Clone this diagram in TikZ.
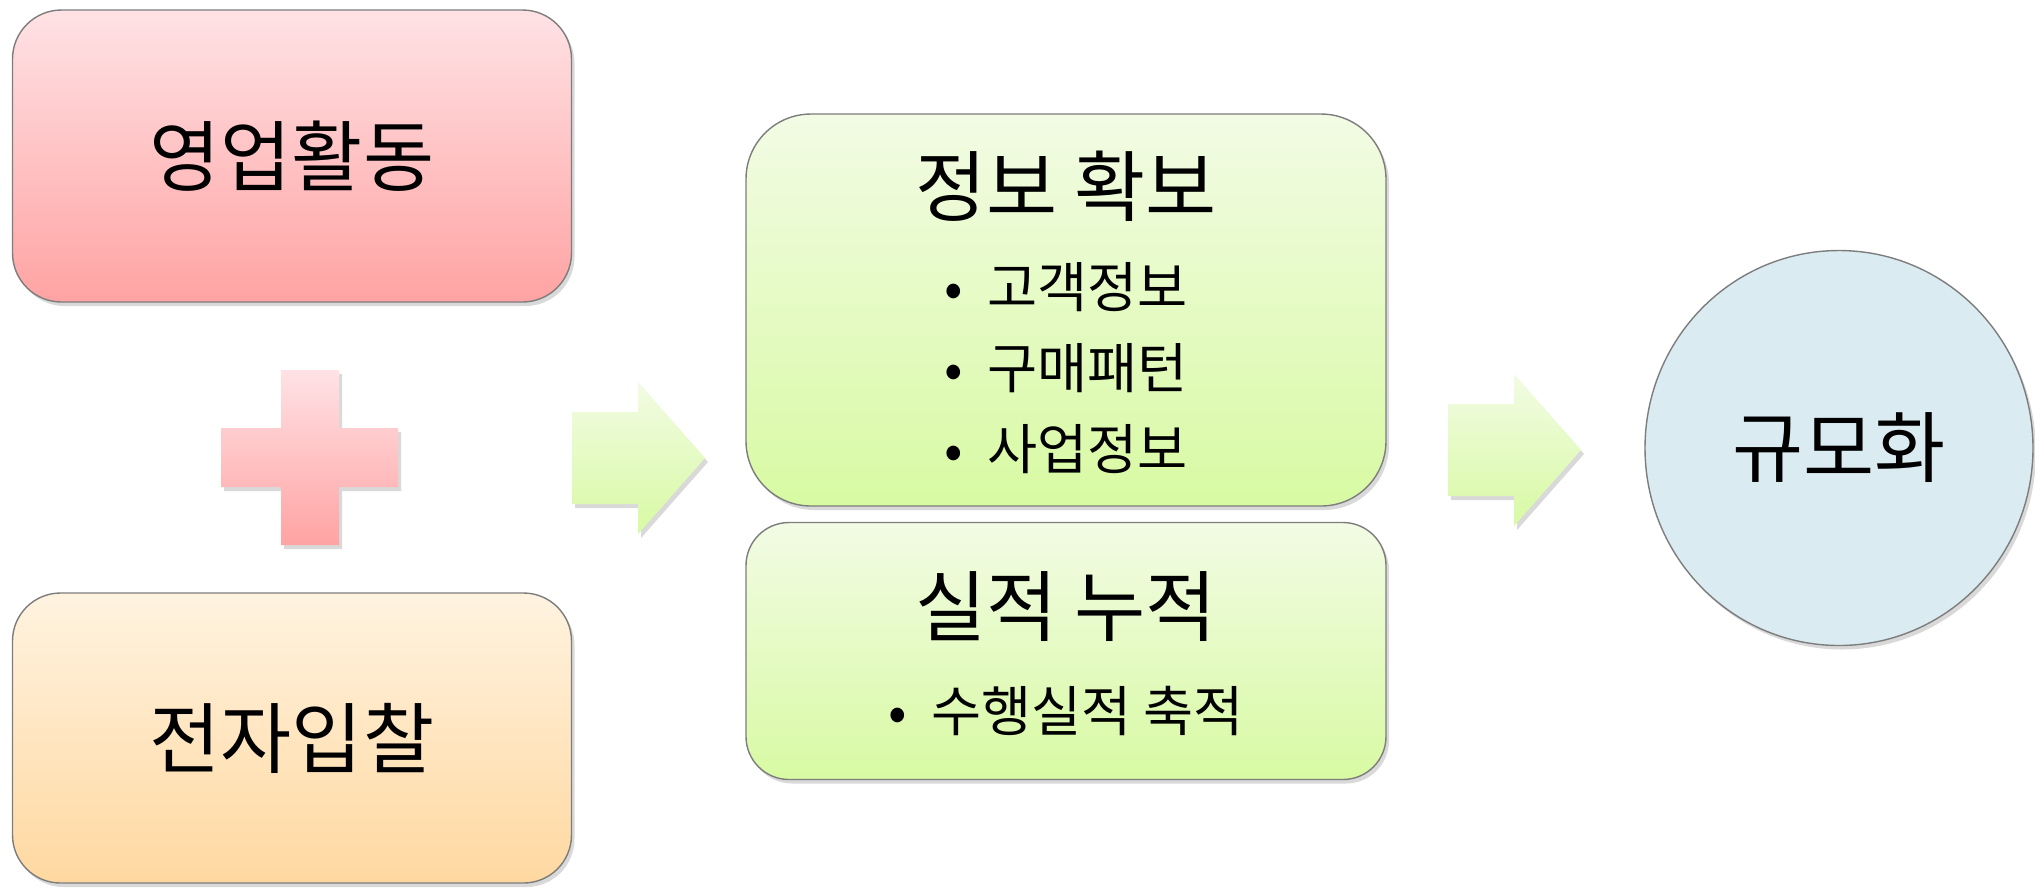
\documentclass[tikz,border=0pt]{standalone}
\usepackage{fontspec}
\setmainfont{Noto Sans CJK KR}
\usetikzlibrary{shapes,positioning,calc,shadows}

\definecolor{redtop}{RGB}{255,226,229}
\definecolor{redbot}{RGB}{255,163,163}
\definecolor{orangetop}{RGB}{255,243,224}
\definecolor{orangebot}{RGB}{255,216,160}
\definecolor{greentop}{RGB}{242,251,228}
\definecolor{greenbot}{RGB}{216,250,163}
\definecolor{bluefill}{RGB}{218,236,242}
\definecolor{edgegray}{RGB}{125,125,125}

\newcommand{\dotitem}[1]{\textbullet\hspace{0.45em}#1}

\begin{document}
\begin{tikzpicture}[x=0.1mm, y=-0.1mm, node distance=8.1mm, on grid,
  soft/.style={drop shadow={shadow xshift=0.3mm, shadow yshift=-0.4mm, opacity=0.3}},
  card/.style={draw=edgegray, line width=0.4pt, soft, inner sep=0pt},
  redcard/.style={card, top color=redtop, bottom color=redbot},
  orangecard/.style={card, top color=orangetop, bottom color=orangebot},
  greencard/.style={card, top color=greentop, bottom color=greenbot},
  head/.style={font=\fontsize{22pt}{26pt}\selectfont, inner sep=0pt},
  item/.style={font=\fontsize{15.5pt}{18pt}\selectfont, inner sep=0pt},
  blockarrow/.pic={
    \path[soft, top color=greentop, bottom color=greenbot]
      (0,-46) -- (66,-46) -- (66,-76) -- (133,0) -- (66,76) -- (66,46) -- (0,46) -- cycle;
  }]

  \useasboundingbox (0,0) rectangle (2035,887);

  % Inputs on the left
  \node[redcard, rounded corners=4.9mm, minimum width=55.9mm, minimum height=29.2mm] (sales) at (292,156) {};
  \node[head] (salestxt) at (sales.center) {영업활동};
  \node[orangecard, rounded corners=4.8mm, minimum width=55.9mm, minimum height=29mm] (ebid) at (292,738) {};
  \node[head] (ebidtxt) at (ebid.center) {전자입찰};

  % Plus sign
  \path[soft, top color=redtop, bottom color=redbot]
    (281,370) -- (339,370) -- (339,428) -- (398,428) -- (398,487) -- (339,487)
    -- (339,545) -- (281,545) -- (281,487) -- (221,487) -- (221,428) -- (281,428) -- cycle;

  % Gains in the middle
  \node[greencard, rounded corners=6.5mm, minimum width=64mm, minimum height=39.2mm] (info) at (1066,310) {};
  \node[head] (infotxt) at (1066,186) {정보 확보};
  \node[item] (i1) at (1066,287) {\dotitem{고객정보}};
  \node[item] (i2) [below=of i1] {\dotitem{구매패턴}};
  \node[item] (i3) [below=of i2] {\dotitem{사업정보}};

  \node[greencard, rounded corners=4.3mm, minimum width=64mm, minimum height=25.7mm] (record) at (1066,651) {};
  \node[head] (recordtxt) at (1066,607) {실적 누적};
  \node[item] (r1) at (1066,711) {\dotitem{수행실적 축적}};

  % Result on the right
  \node[ellipse, draw=edgegray, line width=0.4pt, fill=bluefill, soft, minimum width=38.8mm, minimum height=39.5mm, font=\fontsize{22pt}{26pt}\selectfont] (scale) at (1839,448) {규모화};

  % Block arrows
  \pic at (572,458) {blockarrow};
  \pic at (1448,450) {blockarrow};

\end{tikzpicture}
\end{document}
